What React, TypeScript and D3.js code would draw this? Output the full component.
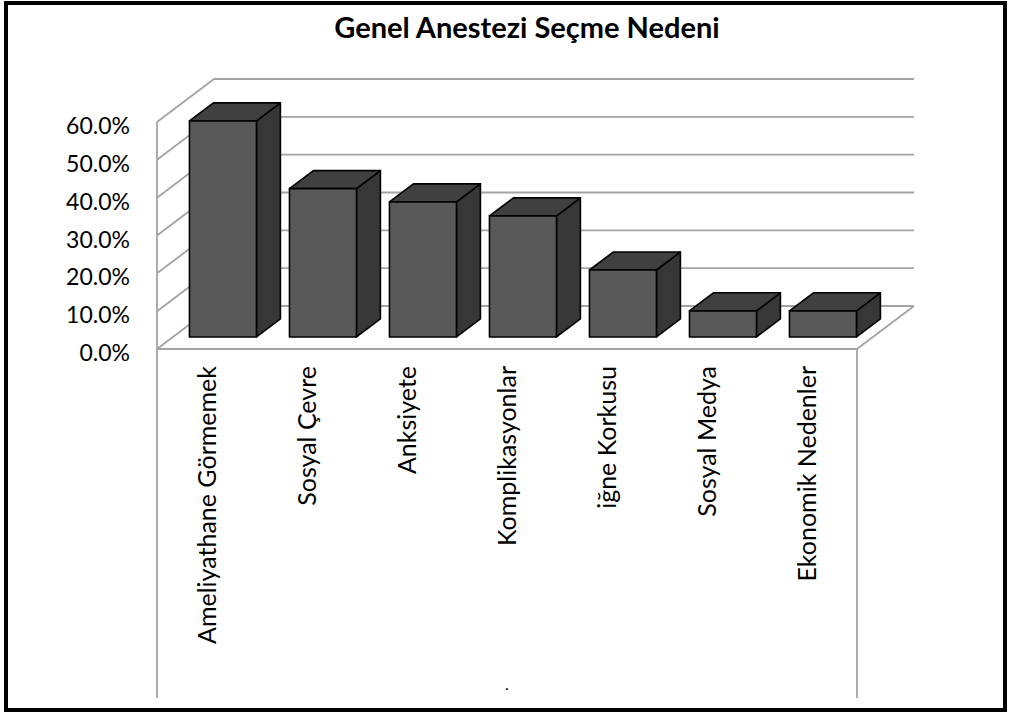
import React from 'react';
import * as d3 from 'd3';

const title = 'Genel Anestezi Seçme Nedeni';
const categories = [
  'Ameliyathane Görmemek',
  'Sosyal Çevre',
  'Anksiyete',
  'Komplikasyonlar',
  'iğne Korkusu',
  'Sosyal Medya',
  'Ekonomik Nedenler',
];
const values = [57.1, 39.2, 35.7, 32.0, 17.7, 6.9, 6.9];
const yTicks = [0, 10, 20, 30, 40, 50, 60];

const W = 1011;
const H = 713;
const FONT = 'Lato, "Open Sans", sans-serif';

export default function App() {
  const x = d3
    .scaleBand<string>()
    .domain(categories)
    .range([157, 857])
    .paddingInner(0.33)
    .paddingOuter(0.165);
  const y = d3.scaleLinear().domain([0, 60]).range([349, 122]);
  const DX = 57;
  const DY = -43;
  const f1 = 0.28;
  const f2 = 0.7;
  const ox = DX * f1;
  const oy = DY * f1;
  const ddx = DX * (f2 - f1);
  const ddy = DY * (f2 - f1);
  const bw = x.bandwidth();
  const grid = '#a3a3a3';
  const x0 = 157;
  const x1 = 857;

  return (
    <svg
      width={W}
      height={H}
      style={{ position: 'absolute', left: 0, top: 0, background: '#fff' }}
    >
      <rect x={0} y={0} width={W} height={H} fill="#fff" />
      {/* walls & gridlines */}
      {yTicks.map((t) => (
        <g key={t}>
          <line x1={x0} y1={y(t)} x2={x0 + DX} y2={y(t) + DY} stroke={grid} strokeWidth={1.8} />
          <line x1={x0 + DX} y1={y(t) + DY} x2={x1 + DX} y2={y(t) + DY} stroke={grid} strokeWidth={1.8} />
        </g>
      ))}
      {/* floor */}
      <line x1={x0} y1={y(0)} x2={x1} y2={y(0)} stroke={grid} strokeWidth={1.8} />
      <line x1={x1} y1={y(0)} x2={x1 + DX} y2={y(0) + DY} stroke={grid} strokeWidth={1.8} />
      {/* vertical axis line / category frame */}
      <line x1={x0} y1={y(60)} x2={x0} y2={698} stroke={grid} strokeWidth={1.8} />
      <line x1={x1} y1={y(0)} x2={x1} y2={698} stroke={grid} strokeWidth={1.8} />

      {/* bars */}
      {categories.map((c, i) => {
        const bx0 = (x(c) as number) + ox;
        const bx1 = bx0 + bw;
        const yb = y(0) + oy;
        const yt = y(values[i]) + oy;
        const top = [
          [bx0, yt],
          [bx1, yt],
          [bx1 + ddx, yt + ddy],
          [bx0 + ddx, yt + ddy],
        ];
        const side = [
          [bx1, yt],
          [bx1 + ddx, yt + ddy],
          [bx1 + ddx, yb + ddy],
          [bx1, yb],
        ];
        return (
          <g key={c} stroke="#000" strokeWidth={1.6} strokeLinejoin="round">
            <polygon points={side.map((p) => p.join(',')).join(' ')} fill="#373737" />
            <polygon points={top.map((p) => p.join(',')).join(' ')} fill="#404040" />
            <rect x={bx0} y={yt} width={bw} height={yb - yt} fill="#595959" />
          </g>
        );
      })}

      {/* y labels */}
      {yTicks.map((t) => (
        <text
          key={t}
          x={130}
          y={y(t) + 12}
          textAnchor="end"
          fontFamily={FONT}
          fontSize={23}
          fill="#000"
        >
          {d3.format('.1f')(t) + '%'}
        </text>
      ))}

      {/* category labels */}
      {categories.map((c, i) => {
        const center = x0 + (i + 0.5) * x.step();
        return (
          <text
            key={c}
            transform={`translate(${center + 9},366) rotate(-90)`}
            textAnchor="end"
            fontFamily={FONT}
            fontSize={25}
            fill="#000"
          >
            {c}
          </text>
        );
      })}

      <text x={507} y={690} textAnchor="middle" fontFamily={FONT} fontSize={16} fill="#000">
        .
      </text>

      {/* title */}
      <text
        x={527}
        y={38}
        textAnchor="middle"
        fontFamily={FONT}
        fontWeight="bold"
        fontSize={29}
        fill="#000"
      >
        {title}
      </text>

      {/* outer border */}
      <rect x={6} y={3} width={999} height={707} fill="none" stroke="#000" strokeWidth={4} />
    </svg>
  );
}
